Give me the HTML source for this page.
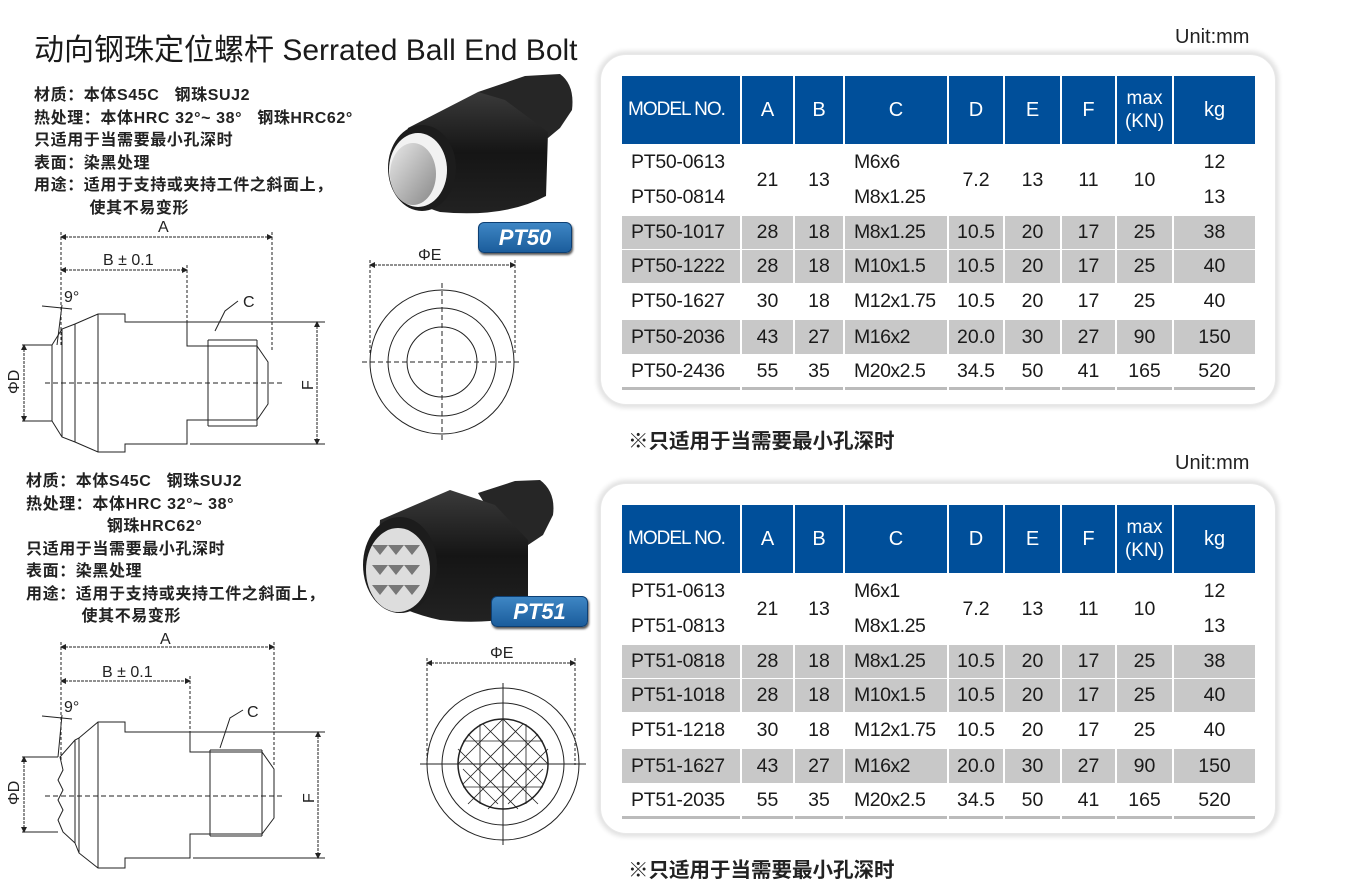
<!DOCTYPE html>
<html><head><meta charset="utf-8">
<style>
body{margin:0;background:#fff;width:1347px;height:882px;position:relative;overflow:hidden;font-family:"Liberation Sans","Noto Sans CJK SC",sans-serif;color:#111}
.a{position:absolute;white-space:nowrap}
.title{left:34px;top:25px;font-size:30px;color:#1a1a1a}
.spec{font-size:16px;letter-spacing:0.6px;line-height:22.5px;font-weight:bold;color:#222}
.box{position:absolute;left:600px;width:674px;border-radius:26px;background:#fff;box-shadow:0 0 5px 3px #e2e2e2;border:1px solid #e8e8e8}
table{position:absolute;left:620px;border-collapse:separate;border-spacing:2px 1px;table-layout:fixed;width:637px}
td{padding:0;font-size:19.5px;text-align:center;vertical-align:middle;color:#1a1a1a;white-space:nowrap}
tr.h td{background:#004f9a;color:#fff;height:68px;font-size:20px}
tr.h td.m{text-align:left;padding-left:6px;letter-spacing:-1px;font-size:19px}
tr.h td.k{font-size:19px;line-height:23px}
tr.g td{background:#c8c8c8}
td.md{text-align:left;padding-left:9px;letter-spacing:-0.3px}
td.c{text-align:left;padding-left:9px;letter-spacing:-0.5px}
tr.last td{border-bottom:3px solid #bbb}
.unit{font-size:20px;color:#222}
.note{font-size:20.5px;font-weight:bold;color:#222}
.badge{position:absolute;border-radius:6px;background:linear-gradient(#3e86c4,#1b5d9c);color:#fff;font-weight:bold;font-style:italic;font-size:22px;text-align:center;box-shadow:1px 2px 2px #555;border:1px solid #0d3f73}
</style></head><body>

<div class="a title">动向钢珠定位螺杆 Serrated Ball End Bolt</div>
<div class="a unit" style="left:1175px;top:26px">Unit:mm</div>
<div class="a unit" style="left:1175px;top:452px">Unit:mm</div>

<div class="a spec" style="left:34px;top:85px">材质：本体S45C&nbsp;&nbsp; 钢珠SUJ2<br>热处理：本体HRC 32°~ 38°&nbsp;&nbsp; 钢珠HRC62°<br>只适用于当需要最小孔深时<br>表面：染黑处理<br>用途：适用于支持或夹持工件之斜面上，<br>&nbsp;&nbsp;&nbsp;&nbsp;&nbsp;&nbsp;&nbsp;&nbsp;&nbsp;&nbsp; 使其不易变形</div>
<div class="a spec" style="left:26px;top:471px">材质：本体S45C&nbsp;&nbsp; 钢珠SUJ2<br>热处理：本体HRC 32°~ 38°<br>&nbsp;&nbsp;&nbsp;&nbsp;&nbsp;&nbsp;&nbsp;&nbsp;&nbsp;&nbsp;&nbsp;&nbsp;&nbsp;&nbsp;&nbsp; 钢珠HRC62°<br>只适用于当需要最小孔深时<br>表面：染黑处理<br>用途：适用于支持或夹持工件之斜面上，<br>&nbsp;&nbsp;&nbsp;&nbsp;&nbsp;&nbsp;&nbsp;&nbsp;&nbsp;&nbsp; 使其不易变形</div>

<div class="box" style="top:54px;height:349px"></div>
<div class="box" style="top:483px;height:349px"></div>

<table style="top:75px">
<colgroup><col style="width:118px"><col style="width:51px"><col style="width:48px"><col style="width:102px"><col style="width:54px"><col style="width:55px"><col style="width:53px"><col style="width:55px"><col style="width:81px"></colgroup>
<tr class="h"><td class="m">MODEL NO.</td><td>A</td><td>B</td><td>C</td><td>D</td><td>E</td><td>F</td><td class="k">max<br>(KN)</td><td>kg</td></tr>
<tr style="height:68px"><td class="md" style="line-height:35px">PT50-0613<br>PT50-0814</td><td>21</td><td>13</td><td class="c" style="line-height:35px">M6x6<br>M8x1.25</td><td>7.2</td><td>13</td><td>11</td><td>10</td><td style="line-height:35px">12<br>13</td></tr>
<tr class="g" style="height:33px"><td class="md">PT50-1017</td><td>28</td><td>18</td><td class="c">M8x1.25</td><td>10.5</td><td>20</td><td>17</td><td>25</td><td>38</td></tr>
<tr class="g" style="height:33px"><td class="md">PT50-1222</td><td>28</td><td>18</td><td class="c">M10x1.5</td><td>10.5</td><td>20</td><td>17</td><td>25</td><td>40</td></tr>
<tr style="height:35px"><td class="md">PT50-1627</td><td>30</td><td>18</td><td class="c">M12x1.75</td><td>10.5</td><td>20</td><td>17</td><td>25</td><td>40</td></tr>
<tr class="g" style="height:34px"><td class="md">PT50-2036</td><td>43</td><td>27</td><td class="c">M16x2</td><td>20.0</td><td>30</td><td>27</td><td>90</td><td>150</td></tr>
<tr class="last" style="height:35px"><td class="md">PT50-2436</td><td>55</td><td>35</td><td class="c">M20x2.5</td><td>34.5</td><td>50</td><td>41</td><td>165</td><td>520</td></tr>
</table>

<table style="top:504px">
<colgroup><col style="width:118px"><col style="width:51px"><col style="width:48px"><col style="width:102px"><col style="width:54px"><col style="width:55px"><col style="width:53px"><col style="width:55px"><col style="width:81px"></colgroup>
<tr class="h"><td class="m">MODEL NO.</td><td>A</td><td>B</td><td>C</td><td>D</td><td>E</td><td>F</td><td class="k">max<br>(KN)</td><td>kg</td></tr>
<tr style="height:68px"><td class="md" style="line-height:35px">PT51-0613<br>PT51-0813</td><td>21</td><td>13</td><td class="c" style="line-height:35px">M6x1<br>M8x1.25</td><td>7.2</td><td>13</td><td>11</td><td>10</td><td style="line-height:35px">12<br>13</td></tr>
<tr class="g" style="height:33px"><td class="md">PT51-0818</td><td>28</td><td>18</td><td class="c">M8x1.25</td><td>10.5</td><td>20</td><td>17</td><td>25</td><td>38</td></tr>
<tr class="g" style="height:33px"><td class="md">PT51-1018</td><td>28</td><td>18</td><td class="c">M10x1.5</td><td>10.5</td><td>20</td><td>17</td><td>25</td><td>40</td></tr>
<tr style="height:35px"><td class="md">PT51-1218</td><td>30</td><td>18</td><td class="c">M12x1.75</td><td>10.5</td><td>20</td><td>17</td><td>25</td><td>40</td></tr>
<tr class="g" style="height:34px"><td class="md">PT51-1627</td><td>43</td><td>27</td><td class="c">M16x2</td><td>20.0</td><td>30</td><td>27</td><td>90</td><td>150</td></tr>
<tr class="last" style="height:35px"><td class="md">PT51-2035</td><td>55</td><td>35</td><td class="c">M20x2.5</td><td>34.5</td><td>50</td><td>41</td><td>165</td><td>520</td></tr>
</table>

<div class="a note" style="left:628px;top:424px">※只适用于当需要最小孔深时</div>
<div class="a note" style="left:628px;top:853px">※只适用于当需要最小孔深时</div>

<svg class="a" style="left:0;top:0" width="600" height="882" viewBox="0 0 600 882">
<defs>
<linearGradient id="blk" x1="0" y1="0" x2="0" y2="1"><stop offset="0" stop-color="#3a3a3a"/><stop offset="0.5" stop-color="#151515"/><stop offset="1" stop-color="#222"/></linearGradient>
<linearGradient id="met" x1="0" y1="0" x2="1" y2="1"><stop offset="0" stop-color="#e8e8e8"/><stop offset="1" stop-color="#888"/></linearGradient>
<marker id="ar" markerWidth="6" markerHeight="6" refX="5" refY="3" orient="auto-start-reverse"><path d="M0,0 L6,3 L0,6z" fill="#222"/></marker>
</defs>
<g>
<path d="M478,92 L525,76 L560,74 Q575,85 572,110 L560,128 L548,138 L505,120 Z" fill="#262626"/>
<path d="M408,128 L478,92 L505,100 L548,132 L546,196 Q505,218 440,212 Q400,200 392,170 Z" fill="url(#blk)"/>
<ellipse cx="422" cy="168" rx="34" ry="43" fill="#1c1c1c"/>
<ellipse cx="418" cy="170" rx="29" ry="37" fill="#f2f2f2"/>
<ellipse cx="413" cy="174" rx="23" ry="31" fill="url(#met)"/>
</g>
<g>
<path d="M478,493 L515,481 L540,480 Q556,492 553,515 L543,535 L528,545 L495,520 Z" fill="#262626"/>
<path d="M380,520 L450,490 L495,505 L528,540 L528,612 Q495,626 440,620 Q395,610 375,590 Z" fill="url(#blk)"/>
<ellipse cx="400" cy="565" rx="37" ry="48" fill="#1c1c1c"/>
<ellipse cx="398" cy="570" rx="32" ry="42" fill="#ddd"/>
<g fill="#777">
<path d="M372,545 l8,10 l8,-10z M388,545 l8,10 l8,-10z M404,545 l8,10 l8,-10z M372,565 l8,10 l8,-10z M388,565 l8,10 l8,-10z M404,565 l8,10 l8,-10z M372,585 l8,10 l8,-10z M388,585 l8,10 l8,-10z M404,585 l8,10 l8,-10z"/>
</g>
</g>

<g stroke="#222" stroke-width="1" fill="none">
<line x1="61" y1="232" x2="61" y2="345" stroke-dasharray="3,2"/>
<line x1="272" y1="232" x2="272" y2="350" stroke-dasharray="3,2"/>
<line x1="187" y1="265" x2="187" y2="322" stroke-dasharray="3,2"/>
<line x1="61" y1="237" x2="272" y2="237" stroke-dasharray="3,1" marker-start="url(#ar)" marker-end="url(#ar)"/>
<line x1="61" y1="270" x2="187" y2="270" stroke-dasharray="3,1" marker-start="url(#ar)" marker-end="url(#ar)"/>
<path d="M52,345 L52,421 L62,437 L75,442 L98,452 L125,452 L125,444 L187,444 L187,420 L257,420 L268,404 L268,362 L257,346 L187,346 L187,322 L125,322 L125,314 L98,314 L75,324 L62,329 Z"/>
<line x1="62" y1="329" x2="62" y2="437"/><line x1="75" y1="324" x2="75" y2="442"/><line x1="98" y1="314" x2="98" y2="452"/>
<line x1="208" y1="340" x2="208" y2="426"/><line x1="208" y1="340" x2="257" y2="340"/><line x1="208" y1="426" x2="257" y2="426"/><line x1="257" y1="340" x2="257" y2="426"/>
<line x1="45" y1="383" x2="283" y2="383" stroke-dasharray="5,3"/>
<line x1="187" y1="322" x2="325" y2="322"/><line x1="190" y1="444" x2="325" y2="444"/>
<line x1="317" y1="322" x2="317" y2="444" stroke-dasharray="3,1" marker-start="url(#ar)" marker-end="url(#ar)"/>
<line x1="22" y1="345" x2="52" y2="345"/><line x1="22" y1="421" x2="52" y2="421"/>
<line x1="24" y1="345" x2="24" y2="421" stroke-dasharray="3,1" marker-start="url(#ar)" marker-end="url(#ar)"/>
<line x1="42" y1="306" x2="72" y2="309"/><line x1="62" y1="305" x2="57" y2="345"/>
<path d="M215,331 L225,311 L238,301"/>
<line x1="370" y1="265" x2="515" y2="265" stroke-dasharray="3,1" marker-start="url(#ar)" marker-end="url(#ar)"/>
<line x1="370" y1="260" x2="370" y2="353" stroke-dasharray="3,2"/><line x1="515" y1="260" x2="515" y2="353" stroke-dasharray="3,2"/>
<circle cx="442" cy="362" r="72"/><circle cx="442" cy="362" r="54"/><circle cx="442" cy="362" r="35"/>
<line x1="362" y1="362" x2="522" y2="362" stroke-dasharray="5,3"/><line x1="442" y1="283" x2="442" y2="443" stroke-dasharray="5,3"/>

<line x1="61" y1="642" x2="61" y2="760" stroke-dasharray="3,2"/>
<line x1="274" y1="642" x2="274" y2="765" stroke-dasharray="3,2"/>
<line x1="190" y1="676" x2="190" y2="732" stroke-dasharray="3,2"/>
<line x1="61" y1="647" x2="274" y2="647" stroke-dasharray="3,1" marker-start="url(#ar)" marker-end="url(#ar)"/>
<line x1="61" y1="681" x2="190" y2="681" stroke-dasharray="3,1" marker-start="url(#ar)" marker-end="url(#ar)"/>
<path d="M60,757 L63,770 L58,780 L63,790 L58,800 L63,810 L58,820 L63,832 L75,843 L79,853 L98,868 L125,868 L125,858 L190,858 L190,834 L262,834 L274,818 L274,769 L262,752 L190,752 L190,732 L125,732 L125,722 L98,722 L79,738 L75,740 Z"/>
<line x1="75" y1="740" x2="75" y2="843"/><line x1="79" y1="738" x2="79" y2="853"/><line x1="98" y1="722" x2="98" y2="868"/>
<line x1="210" y1="750" x2="210" y2="836"/><line x1="210" y1="750" x2="262" y2="750"/><line x1="210" y1="836" x2="262" y2="836"/><line x1="262" y1="750" x2="262" y2="836"/>
<line x1="45" y1="796" x2="285" y2="796" stroke-dasharray="5,3"/>
<line x1="190" y1="732" x2="325" y2="732"/><line x1="193" y1="858" x2="325" y2="858"/>
<line x1="318" y1="732" x2="318" y2="858" stroke-dasharray="3,1" marker-start="url(#ar)" marker-end="url(#ar)"/>
<line x1="22" y1="757" x2="58" y2="757"/><line x1="22" y1="832" x2="58" y2="832"/>
<line x1="24" y1="757" x2="24" y2="832" stroke-dasharray="3,1" marker-start="url(#ar)" marker-end="url(#ar)"/>
<line x1="42" y1="716" x2="72" y2="719"/><line x1="62" y1="715" x2="58" y2="757"/>
<path d="M220,748 L230,718 L243,710"/>
<line x1="427" y1="663" x2="575" y2="663" stroke-dasharray="3,1" marker-start="url(#ar)" marker-end="url(#ar)"/>
<line x1="427" y1="658" x2="427" y2="765" stroke-dasharray="3,2"/><line x1="575" y1="658" x2="575" y2="765" stroke-dasharray="3,2"/>
<circle cx="503" cy="764" r="76"/><circle cx="503" cy="764" r="61"/>
<circle cx="503" cy="764" r="45" stroke-width="1.5"/>
<g stroke-width="0.8">
<path d="M468,734 L538,804 M458,749 L518,809 M463,769 L498,804 M483,724 L543,784 M503,719 L548,764 M538,734 L468,804 M548,749 L488,809 M543,769 L508,804 M523,724 L463,784 M503,719 L458,764"/>
<path d="M503,719 L503,809 M458,764 L548,764 M480,724 L480,804 M526,724 L526,804 M463,741 L543,741 M463,787 L543,787"/>
</g>
<line x1="420" y1="764" x2="586" y2="764"/><line x1="503" y1="683" x2="503" y2="845"/>
</g>
<g fill="#222" font-family="Liberation Sans, sans-serif" font-size="16">
<text x="158" y="232">A</text><text x="103" y="265">B ± 0.1</text><text x="64" y="302">9°</text><text x="243" y="307">C</text>
<text x="418" y="260">ΦE</text>
<text x="160" y="644">A</text><text x="102" y="677">B ± 0.1</text><text x="64" y="712">9°</text><text x="247" y="717">C</text>
<text x="490" y="658">ΦE</text>
<text transform="translate(19,394) rotate(-90)">ΦD</text><text transform="translate(313,390) rotate(-90)">F</text>
<text transform="translate(19,805) rotate(-90)">ΦD</text><text transform="translate(314,803) rotate(-90)">F</text>
</g>
</svg>

<div class="badge" style="left:478px;top:222px;width:92px;height:29px;line-height:29px">PT50</div>
<div class="badge" style="left:491px;top:596px;width:95px;height:29px;line-height:29px">PT51</div>
</body></html>
